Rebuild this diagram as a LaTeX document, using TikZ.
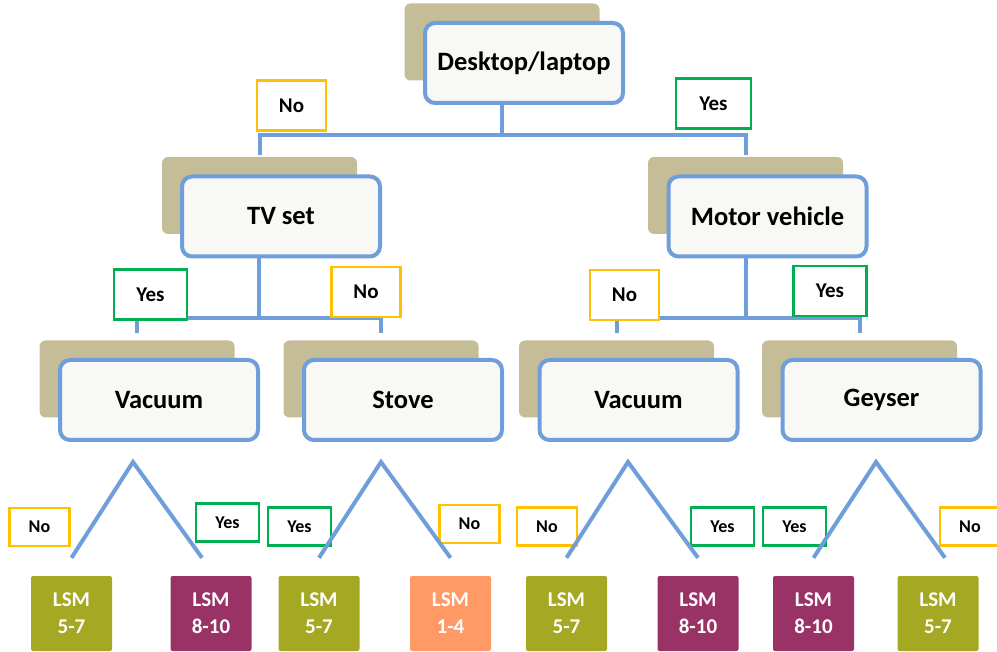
\documentclass[tikz,border=0pt]{standalone}
\usepackage{fontspec}
\setmainfont{Carlito}
\usepackage{tikz}

\definecolor{linkblue}{RGB}{112,158,218}
\definecolor{shadowtan}{RGB}{196,189,151}
\definecolor{boxfill}{RGB}{248,248,245}
\definecolor{noyellow}{RGB}{255,192,0}
\definecolor{yesgreen}{RGB}{0,176,80}
\definecolor{lsmolive}{RGB}{164,168,34}
\definecolor{lsmpurple}{RGB}{153,51,102}
\definecolor{lsmorange}{RGB}{255,153,102}

\begin{document}
\begin{tikzpicture}[x=1pt, y=-1pt,
	shadowbox/.style={fill=shadowtan, rounded corners=6pt, minimum width=195pt, minimum height=77pt, inner sep=0pt},
	mainbox/.style={draw=linkblue, line width=4pt, fill=boxfill, rounded corners=10pt, minimum width=198pt, minimum height=80pt, inner sep=0pt, font=\bfseries\fontsize{26.5}{31}\selectfont},
	link/.style={draw=linkblue, line width=4pt},
	answer/.style={fill=white, line width=2.5pt, inner sep=0pt, minimum height=50pt, font=\bfseries\fontsize{21}{25}\selectfont},
	lowanswer/.style={answer, minimum height=38pt, font=\bfseries\fontsize{18}{22}\selectfont},
	nobox/.style={draw=noyellow, minimum width=69pt},
	yesbox/.style={draw=yesgreen, minimum width=73pt},
	lsm/.style={minimum width=81pt, minimum height=75pt, rounded corners=2pt, inner sep=0pt, text=white, align=center, font=\bfseries\fontsize{21}{27}\selectfont}]
	\useasboundingbox (0,0) rectangle (997,652);

	% root
	\node[shadowbox] (deskS) at (502,42) {};
	\node[mainbox] (desk) at (524,63) {Desktop/laptop};

	% second row
	\node[shadowbox] (tvS) at (259.5,195.5) {};
	\node[mainbox] (tv) at (281,216.5) {TV set};
	\node[shadowbox] (motorS) at (745.5,195.5) {};
	\node[mainbox] (motor) at (767.5,216.5) {Motor vehicle};

	% third row
	\node[shadowbox] (vacLS) at (137,379) {};
	\node[mainbox] (vacL) at (159,400) {Vacuum};
	\node[shadowbox] (stoveS) at (381,379) {};
	\node[mainbox] (stove) at (403,400) {Stove};
	\node[shadowbox] (vacRS) at (616.5,379) {};
	\node[mainbox] (vacR) at (638.5,400) {Vacuum};
	\node[shadowbox] (geyserS) at (859.5,379) {};
	\node[mainbox] (geyser) at (881.5,400) {Geyser};

	% buses
	\coordinate (deskbus) at (502,135);
	\draw[link] (desk.south -| deskbus) -- (deskbus);
	\draw[link] ([yshift=2pt]tvS.north) |- (deskbus) -| ([yshift=2pt]motorS.north);

	\coordinate (tvbus) at (259,318);
	\draw[link] (tv.south -| tvbus) -- (tvbus);
	\draw[link] ([yshift=7pt]vacLS.north) |- (tvbus) -| ([yshift=7pt]stoveS.north);

	\coordinate (motorbus) at (745.5,318);
	\draw[link] (motor.south -| motorbus) -- (motorbus);
	\draw[link] ([yshift=7pt]vacRS.north) |- (motorbus) -| ([yshift=7pt]geyserS.north);

	% answers, upper rows
	\node[answer, nobox] (deskno) at (291.5,105.5) {No};
	\node[answer, yesbox, minimum width=75pt] (deskyes) at (713.5,103.5) {Yes};
	\node[answer, yesbox] (tvyes) at (150.5,294.5) {Yes};
	\node[answer, nobox] (tvno) at (366,292) {No};
	\node[answer, nobox] (motorno) at (624.5,295) {No};
	\node[answer, yesbox] (motoryes) at (830,291) {Yes};

	% answers, bottom row
	\node[lowanswer, nobox, minimum width=60pt] (vacLno) at (39.5,527) {No};
	\node[lowanswer, yesbox, minimum width=63pt] (vacLyes) at (227.5,522.5) {Yes};
	\node[lowanswer, yesbox, minimum width=63pt] (stoveyes) at (299.5,526.5) {Yes};
	\node[lowanswer, nobox, minimum width=60pt] (stoveno) at (469.5,524) {No};
	\node[lowanswer, nobox, minimum width=60pt] (vacRno) at (547,526.5) {No};
	\node[lowanswer, yesbox, minimum width=63pt] (vacRyes) at (722.5,526.5) {Yes};
	\node[lowanswer, yesbox, minimum width=63pt] (geyseryes) at (794.5,526.5) {Yes};
	\node[lowanswer, nobox, minimum width=60pt] (geyserno) at (970,526.5) {No};

	% leaves
	\node[lsm, fill=lsmolive] (lsm1) at (71.5,613.5) {LSM\\5-7};
	\node[lsm, fill=lsmpurple] (lsm2) at (211,613.5) {LSM\\8-10};
	\node[lsm, fill=lsmolive] (lsm3) at (319,613.5) {LSM\\5-7};
	\node[lsm, fill=lsmorange] (lsm4) at (450.5,613.5) {LSM\\1-4};
	\node[lsm, fill=lsmolive] (lsm5) at (566.5,613.5) {LSM\\5-7};
	\node[lsm, fill=lsmpurple] (lsm6) at (698,613.5) {LSM\\8-10};
	\node[lsm, fill=lsmpurple] (lsm7) at (813.5,613.5) {LSM\\8-10};
	\node[lsm, fill=lsmolive] (lsm8) at (938,613.5) {LSM\\5-7};

	% V links to leaves
	\coordinate (vacLpeak) at (133,462);
	\coordinate (stovepeak) at (381,462);
	\coordinate (vacRpeak) at (628,462);
	\coordinate (geyserpeak) at (876,462);
	\draw[link] ([shift={(0,-18)}]lsm1.north) -- (vacLpeak) -- ([shift={(-9,-18)}]lsm2.north);
	\draw[link] ([shift={(0,-18)}]lsm3.north) -- (stovepeak) -- ([shift={(0,-18)}]lsm4.north);
	\draw[link] ([shift={(0,-18)}]lsm5.north) -- (vacRpeak) -- ([shift={(0,-18)}]lsm6.north);
	\draw[link] ([shift={(0,-18)}]lsm7.north) -- (geyserpeak) -- ([shift={(7,-18)}]lsm8.north);
\end{tikzpicture}
\end{document}
